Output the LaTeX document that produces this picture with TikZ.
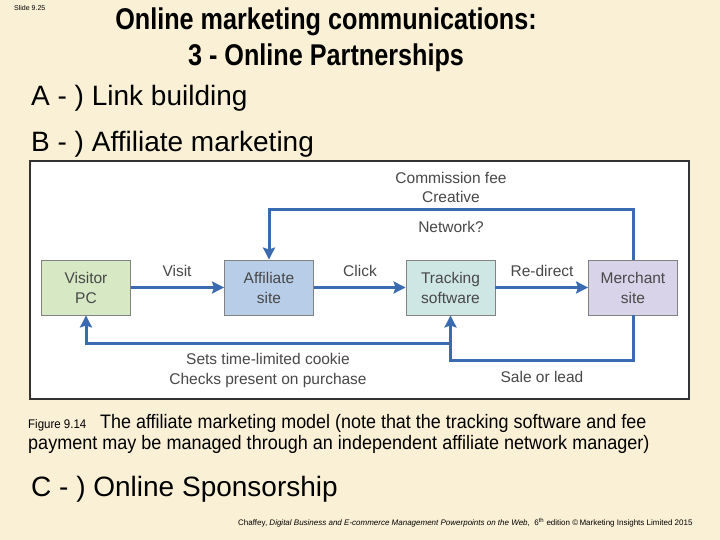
\documentclass[tikz,border=0pt]{standalone}
\usepackage{fontspec}
\setmainfont{Liberation Sans}
\usetikzlibrary{arrows.meta,calc}
\definecolor{bg}{RGB}{250,240,213}
\definecolor{arrblue}{RGB}{58,107,176}
\definecolor{visg}{RGB}{214,232,196}
\definecolor{affb}{RGB}{184,206,232}
\definecolor{trkt}{RGB}{206,230,228}
\definecolor{merl}{RGB}{217,211,233}
\definecolor{boxline}{RGB}{130,130,130}
\definecolor{dtext}{RGB}{72,72,72}
\tikzset{
  box/.style={draw=boxline, line width=0.9pt, minimum width=89pt, minimum height=55pt,
    align=center, text=dtext, font=\fontsize{15.5}{20}\selectfont, inner sep=0pt},
  arr/.style={draw=arrblue, line width=3pt, -{Stealth[length=12pt,width=12pt,inset=2pt]}},
  lbl/.style={text=dtext, font=\fontsize{15.5}{19}\selectfont, inner sep=0pt, align=center},
  slidetext/.style={anchor=base west, inner sep=0pt, font=\fontsize{28}{32}\selectfont},
}
\begin{document}
\begin{tikzpicture}[x=1pt,y=-1pt]
\fill[bg] (0,0) rectangle (720,540);
\useasboundingbox (0,0) rectangle (720,540);
% header
\node[anchor=base west, inner sep=0pt, font=\fontsize{7}{8}\selectfont] (slide) at (14,11) {Slide 9.25};
\node[anchor=base, inner sep=0pt, font=\bfseries\fontsize{30}{34}\selectfont] (t1) at (326,30) {\scalebox{0.84}[1]{Online marketing communications:}};
\node[anchor=base, inner sep=0pt, font=\bfseries\fontsize{30}{34}\selectfont] (t2) at (326,66) {\scalebox{0.84}[1]{3 - Online Partnerships}};
\node[slidetext] (a) at (31,106) {A - ) Link building};
\node[slidetext] (b) at (31,152) {B - ) Affiliate marketing};
% figure frame
\draw[fill=white, draw=black!80, line width=1.2pt] (30,161) rectangle (689,399);
\node[box, fill=visg] (vis) at (86,287.5) {Visitor\\PC};
\node[box, fill=affb] (aff) at (269,287.5) {Affiliate\\site};
\node[box, fill=trkt] (trk) at (450.5,287.5) {Tracking\\software};
\node[box, fill=merl] (mer) at (633,287.5) {Merchant\\site};
\draw[arr] (vis) -- (aff);
\draw[arr] (aff) -- (trk);
\draw[arr] (trk) -- (mer);
\node[lbl] (lvisit) at (177,271) {Visit};
\node[lbl] (lclick) at (360,271) {Click};
\node[lbl] (lred) at (542,271) {Re-direct};
\draw[arr] (mer.north) -- ([yshift=50pt]mer.north) -| (aff.north);
\draw[arr] (mer.south) -- ([yshift=-45pt]mer.south) -| (trk.south);
\coordinate (j) at (450.5,343);
\draw[arr] (j) -| (vis.south);
\node[lbl] (lcf) at (451,178) {Commission fee};
\node[lbl] (lcr) at (451,197) {Creative};
\node[lbl] (lnet) at (451,227) {Network?};
\node[lbl] (lck1) at (268,359) {Sets time-limited cookie};
\node[lbl] (lck2) at (268,380) {Checks present on purchase};
\node[lbl] (lsale) at (542,377) {Sale or lead};
% caption
\node[anchor=base west, inner sep=0pt, font=\fontsize{12.5}{13}\selectfont] (fig) at (28,428) {\scalebox{0.92}[1]{Figure 9.14}};
\node[anchor=base west, inner sep=0pt, font=\fontsize{19.5}{22}\selectfont] (cap1) at (100,428) {\scalebox{0.92}[1]{The affiliate marketing model (note that the tracking software and fee}};
\node[anchor=base west, inner sep=0pt, font=\fontsize{19.5}{22}\selectfont] (cap2) at (28,449) {\scalebox{0.925}[1]{payment may be managed through an independent affiliate network manager)}};
\node[slidetext] (c) at (31,496) {C - ) Online Sponsorship};
\node[anchor=base west, inner sep=0pt, font=\fontsize{8}{9}\selectfont] (foot) at (238,525) {Chaffey, \textit{Digital Business and E-commerce Management Powerpoints on the Web}, \ 6\textsuperscript{th} edition \textcopyright\,Marketing Insights Limited 2015};
\end{tikzpicture}
\end{document}
